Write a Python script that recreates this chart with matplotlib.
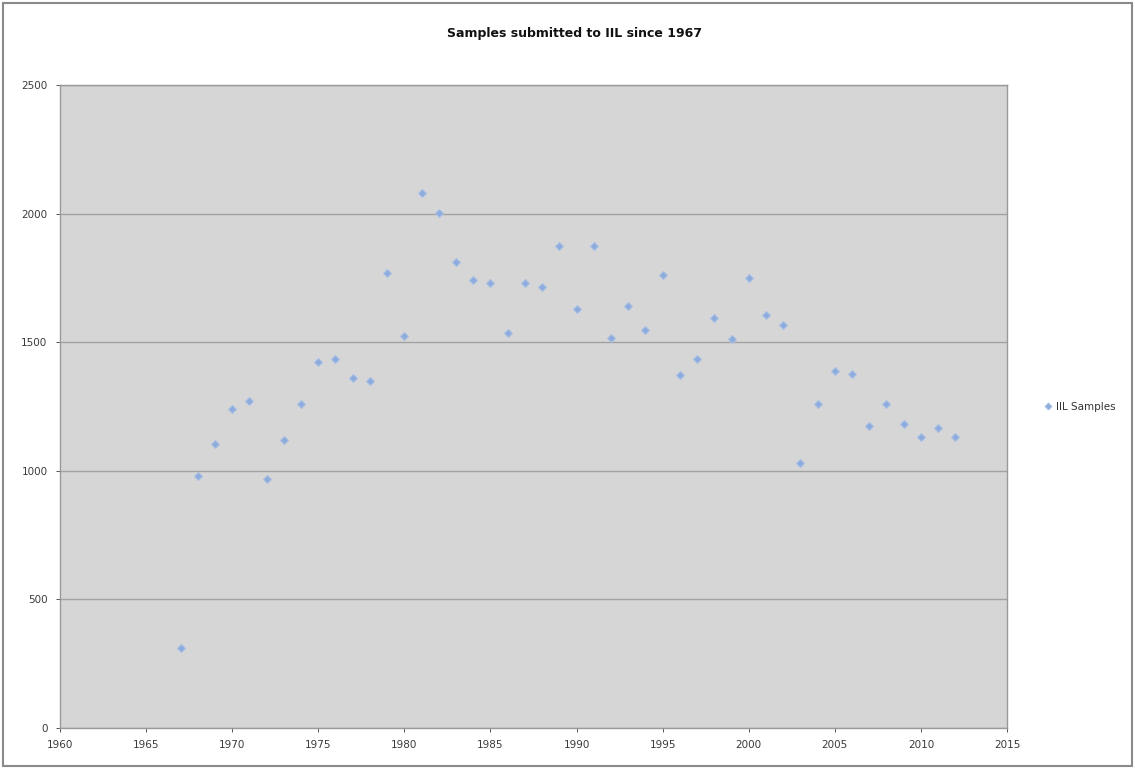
import matplotlib
matplotlib.use('Agg')
import matplotlib.pyplot as plt
from matplotlib.patches import Rectangle

# values
years = list(range(1967, 2013))
samples = [311, 980, 1104, 1240, 1271, 968, 1120, 1260, 1423, 1435,
           1361, 1349, 1769, 1524, 2080, 2002, 1812, 1742, 1730, 1536,
           1730, 1715, 1874, 1629, 1874, 1516, 1641, 1547, 1761, 1372,
           1435, 1594, 1512, 1750, 1606, 1567, 1030, 1260, 1388, 1376,
           1174, 1260, 1182, 1131, 1166, 1131]
x_ticks = list(range(1960, 2016, 5))
y_ticks = list(range(0, 2501, 500))

plt.rcParams['font.family'] = ['DejaVu Sans']

fig = plt.figure(figsize=(11.35, 7.69), dpi=100)
ax = fig.add_axes([60 / 1135, 41 / 769, 947 / 1135, 643 / 769])
ax.set_facecolor('#d6d6d6')

ax.plot(years, samples, linestyle='none', marker='D', markersize=4.3,
        color='#8dabdc', markeredgecolor='#a9c0e6', markeredgewidth=0.8,
        label='IIL Samples')

ax.set_xlim(1960, 2015)
ax.set_ylim(0, 2500)
ax.set_xticks(x_ticks)
ax.set_yticks(y_ticks)
ax.tick_params(labelsize=7.5, colors='#3a3a3a', length=3, width=0.6, pad=6)
ax.yaxis.grid(True, color='#a2a2a2', linewidth=1.0)
ax.set_axisbelow(True)
for side in ['left', 'bottom', 'right', 'top']:
    ax.spines[side].set_color('#9a9a9a')
    ax.spines[side].set_linewidth(1.0)

fig.text(0.506, 0.957, 'Samples submitted to IIL since 1967', ha='center', va='center',
         fontsize=9, fontweight='bold', color='#111111')

fig.legend(loc='center left', bbox_to_anchor=(1035 / 1135, 1 - 407 / 769), frameon=False,
           fontsize=7.5, handlelength=0.6, handletextpad=0.5, markerscale=0.8,
           labelcolor='#333333')

# thin frame around the whole picture
fig.patches.append(Rectangle((3 / 1135, 3 / 769), 1129 / 1135, 763 / 769, transform=fig.transFigure,
                             fill=False, edgecolor='#8a8a8a', linewidth=1.5))

plt.savefig('out.png', dpi=100)
